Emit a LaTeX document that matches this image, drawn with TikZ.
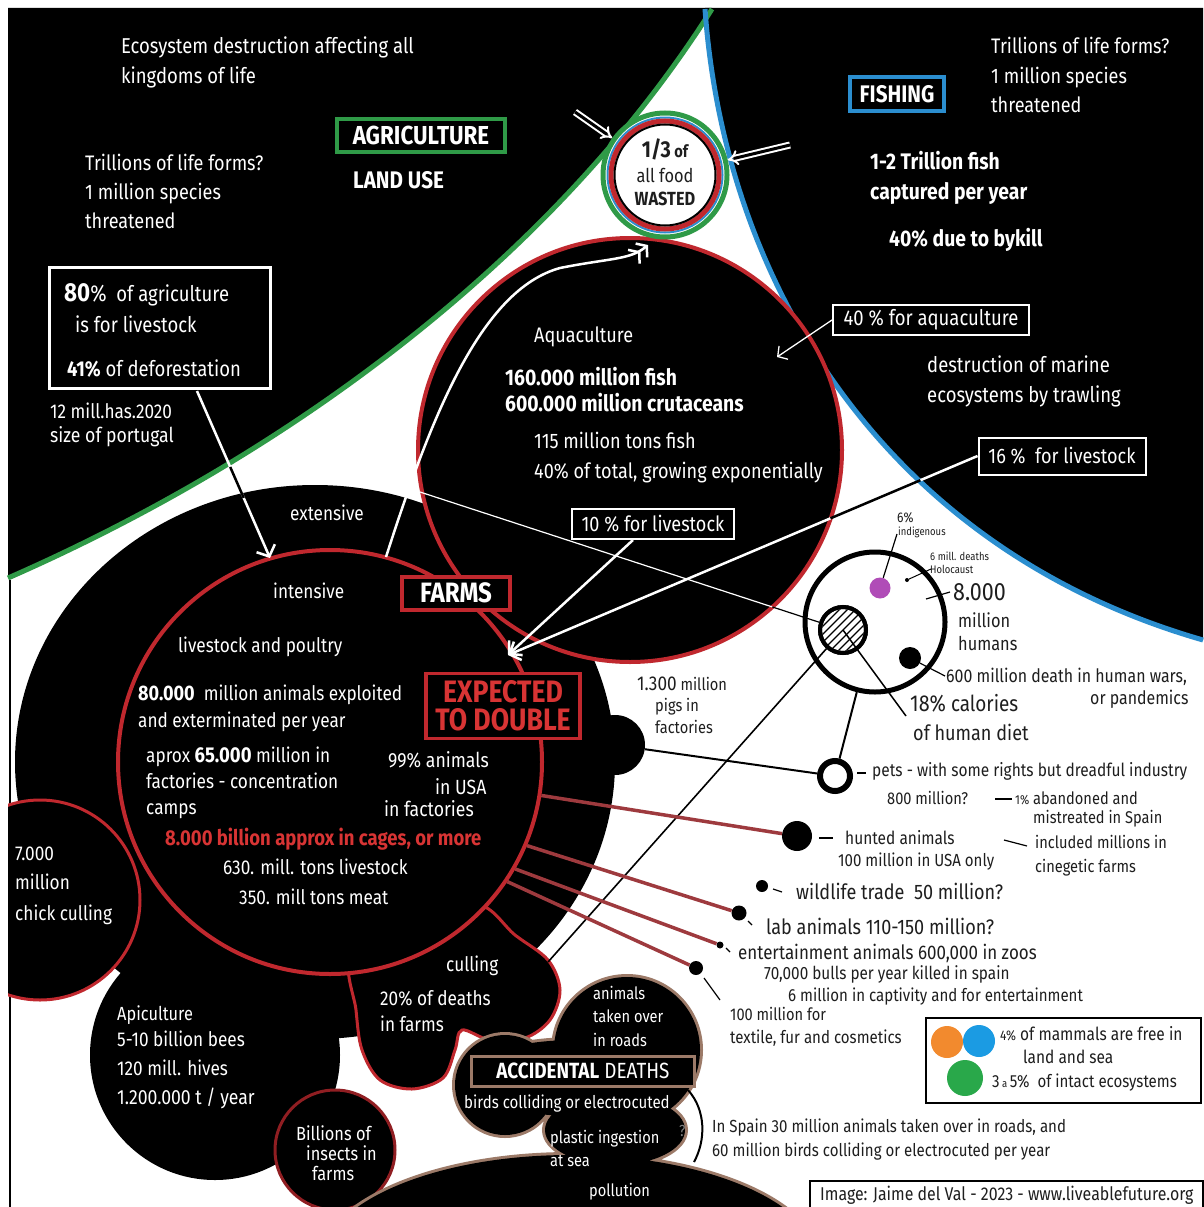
\documentclass[tikz,border=0pt]{standalone}
\usepackage{fontspec}
\setmainfont{Fira Sans}[FakeStretch=0.86]
\usetikzlibrary{arrows.meta,calc}
\newcommand{\fsz}[1]{\fontsize{#1}{#1}\selectfont}
\definecolor{agrgreen}{HTML}{2F9A47}
\definecolor{fishblue}{HTML}{2B8ECF}
\definecolor{farmred}{HTML}{C0282E}
\definecolor{linered}{HTML}{9E3A3E}
\definecolor{brightred}{HTML}{D83434}
\definecolor{accbrown}{HTML}{9C7A68}
\definecolor{humanpurple}{HTML}{B04CB7}
\definecolor{legorange}{HTML}{F28A2E}
\definecolor{legblue}{HTML}{1B9BE3}
\definecolor{leggreen}{HTML}{29A84A}
\definecolor{ink}{HTML}{1E1E1E}
\tikzset{
  lbl/.style={anchor=base west, inner sep=0pt, text=white},
  dlbl/.style={anchor=base west, inner sep=0pt, text=ink},
  wbox/.style={draw=white, line width=2pt, fill=black, text=white, inner sep=0pt},
  wline/.style={draw=white, line width=2.5pt},
  bline/.style={draw=black, line width=2pt},
  rline/.style={draw=linered, line width=3.5pt},
  barb/.style={-{Straight Barb[length=9pt,width=20pt]}},
  dot/.style={circle, fill=black, inner sep=0pt},
  dblarrow/.style={draw=white, double=black, double distance=3pt, line width=2pt, -{Implies[length=9pt]}},
}
\begin{document}
\begin{tikzpicture}[x=1pt,y=-1pt]
\useasboundingbox (0,0) rectangle (1203,1207);
\fill[white] (0,0) rectangle (1203,1207);

% land and sea regions
\fill[black] (8,8) -- (712,8) -- (712,9) .. controls (560,250) and (300,450) .. (8,578) -- cycle;
\fill[black] (705,8) -- (1203,8) -- (1203,640) .. controls (890,550) and (725,290) .. (705,9) -- cycle;
\draw[agrgreen, line width=5pt] (8,578) .. controls (300,450) and (560,250) .. (712,9);
\draw[fishblue, line width=5pt] (705,9) .. controls (725,290) and (890,550) .. (1203,640);
\draw[black, line width=2pt] (10,580) -- (10,1207);

% animal farming blobs
\fill[black] (315,762) ellipse [x radius=300, y radius=277];
\node[circle, fill=black, minimum size=60pt, inner sep=0pt] (pig) at (615,745) {};
\node[circle, fill=black, draw=farmred, line width=4pt, minimum size=424pt, inner sep=0pt] (aquac) at (630,450) {};
\fill[black] (215,1055) circle (125);
\begin{scope}
  \clip (8,0) rectangle (1203,1207);
  \draw[farmred, line width=3pt, fill=black] (40,900) circle (100);
\end{scope}
\draw[farmred, line width=3pt, fill=black] plot[smooth cycle, tension=0.55] coordinates {
  (352,955) (356,1010) (362,1050) (380,1080) (412,1089) (443,1078) (455,1050) (462,1030)
  (490,1040) (525,1038) (550,1020) (560,990) (548,960) (515,935) (478,905) (420,930)};
\node[circle, fill=black, draw=farmred, line width=4pt, minimum size=424pt, inner sep=0pt] (farmc) at (330,762) {};
\node[circle, fill=black, draw=farmred!75!black, line width=3pt, minimum size=120pt, inner sep=0pt] (insc) at (335,1150) {};

% accidental deaths blob
\path[draw=accbrown, line width=6pt, fill=black]
  (627,1050) circle (73) (505,1085) circle (50)
  (575,1078) ellipse [x radius=112, y radius=38]
  (615,1130) ellipse [x radius=70, y radius=35]
  (570,1265) ellipse [x radius=250, y radius=110];
\fill[black]
  (627,1050) circle (73) (505,1085) circle (50)
  (575,1078) ellipse [x radius=112, y radius=38]
  (615,1130) ellipse [x radius=70, y radius=35]
  (570,1265) ellipse [x radius=250, y radius=110];
\draw[black, line width=2pt] (688,1090) .. controls (706,1110) and (706,1140) .. (694,1162);

% food waste circle
\node[circle, fill=white, draw=agrgreen, line width=5pt, minimum size=124pt, inner sep=0pt] (food) at (665,175) {};
\draw[fishblue, line width=2pt] (food.center) circle (57.5);
\draw[farmred, line width=5pt] (food.center) circle (54);
\draw[black, line width=2pt] (food.center) circle (50.5);
\node[text=ink, font=\bfseries\fsz{23}, inner sep=0pt] (f13) at (665,149) {1/3{\fsz{17} of}};
\node[text=ink, font=\fsz{19}, inner sep=0pt] (fall) at (665,175) {all food};
\node[text=ink, font=\bfseries\fsz{19}, inner sep=0pt] (fwas) at (665,199) {WASTED};
\coordinate (ularr) at (575,112);
\coordinate (rarr) at (790,145);
\draw[dblarrow] (ularr) -- (food);
\draw[dblarrow] (rarr) -- (food);

% connectors on the dark areas
\node[draw=white, line width=3pt, fill=black, minimum width=221pt, minimum height=121pt, inner sep=0pt] (box80) at (160,328) {};
\coordinate (a80end) at (270,558);
\coordinate (a80start) at (197,391);
\draw[wline, barb] (a80start) -- (a80end);
\draw[black, line width=2.5pt] ($(a80start)!0.455!(a80end)$) -- ($(a80start)!0.64!(a80end)$);
\coordinate (cs) at (386,557);
\coordinate (ce) at (648,245);
\draw[wline, -{Straight Barb[length=7pt,width=18pt] Straight Barb[length=7pt,width=18pt]}]
  (cs) .. controls (430,420) and (480,290) .. (560,268) .. controls (610,258) and (630,260) .. (ce);

\node[circle, draw=black, line width=4pt, minimum size=46pt, inner sep=0pt] (hatch) at (843,630) {};
\coordinate (tl0) at (420,492);
\draw[white, line width=1.2pt] (tl0) -- ($(tl0)!0.833!(hatch)$);
\draw[black, line width=1.2pt] ($(tl0)!0.833!(hatch)$) -- (hatch);

\node[wbox, font=\fsz{21.5}, minimum width=196pt, minimum height=30pt] (b40) at (931,320) {40 \% for aquaculture};
\node[wbox, font=\fsz{21}, minimum width=167pt, minimum height=37pt] (b16) at (1062,456) {16 \%\ \ for livestock};
\node[wbox, font=\fsz{21}, minimum width=162pt, minimum height=30pt] (b10) at (653,524) {10 \% for livestock};
\coordinate (aqa) at (777,357);
\draw[white, line width=1.3pt, -{Straight Barb[length=7pt,width=16pt]}] (b40.west) -- (aqa);
\coordinate (fa) at (508,655);
\draw[wline, barb] ([xshift=-20pt]b10.south) -- (fa);
\draw[wline] (b16.west) -- ($(b16.west)!0.1217!(fa)$);
\draw[black, line width=2.5pt] ($(b16.west)!0.1217!(fa)$) -- ($(b16.west)!0.3135!(fa)$);
\draw[wline, barb] ($(b16.west)!0.3135!(fa)$) -- (fa);

% boxes and labels, top left
\node[lbl, font=\fsz{21.5}] (eco1) at (121,54) {Ecosystem destruction affecting all};
\node[lbl, font=\fsz{21.5}] (eco2) at (121,83) {kingdoms of life};
\node[lbl, font=\fsz{21}] (tr1) at (85,170) {Trillions of life forms?};
\node[lbl, font=\fsz{21}] (tr2) at (85,199) {1 million species};
\node[lbl, font=\fsz{21}] (tr3) at (85,228) {threatened};
\node[draw=agrgreen, line width=4pt, fill=black, text=white, font=\bfseries\fsz{26}, minimum width=168pt, minimum height=33pt, inner sep=0pt] (agri) at (421,135) {AGRICULTURE};
\node[lbl, font=\bfseries\fsz{24}] (land) at (353,188) {LAND USE};
\node[lbl, font=\fsz{21.5}] (p80) at (64,301) {{\bfseries\fsz{26}80}{\fsz{23}\%}\ \ of agriculture};
\node[lbl, font=\fsz{21.5}] (p80b) at (75,332) {is for livestock};
\node[lbl, font=\fsz{21.5}] (p41) at (67,376) {{\bfseries 41\%} of deforestation};
\node[lbl, font=\fsz{20}] (mill12) at (50,418) {12 mill.has.2020};
\node[lbl, font=\fsz{20.5}] (port) at (50,442) {size of portugal};

% top right
\node[lbl, font=\fsz{21}] (tr4) at (991,54) {Trillions of life forms?};
\node[lbl, font=\fsz{21}] (tr5) at (991,83) {1 million species};
\node[lbl, font=\fsz{21}] (tr6) at (991,112) {threatened};
\node[draw=fishblue, line width=4pt, fill=black, text=white, font=\bfseries\fsz{24}, minimum width=94pt, minimum height=34pt, inner sep=0pt] (fish) at (897,94) {FISHING};
\node[lbl, font=\bfseries\fsz{22.5}] (fsh1) at (870,169) {1-2 Trillion fish};
\node[lbl, font=\bfseries\fsz{22.5}] (fsh2) at (870,199) {captured per year};
\node[lbl, font=\bfseries\fsz{22.5}] (fsh3) at (889,246) {40\% due to bykill};
\node[lbl, font=\fsz{21.5}] (mar1) at (927,372) {destruction of marine};
\node[lbl, font=\fsz{21.5}] (mar2) at (927,402) {ecosystems by trawling};

% aquaculture
\node[lbl, font=\fsz{21}] (aq) at (534,342) {Aquaculture};
\node[lbl, font=\bfseries\fsz{22.5}] (aq1) at (505,385) {160.000 million fish};
\node[lbl, font=\bfseries\fsz{22.5}] (aq2) at (505,411) {600.000 million crutaceans};
\node[lbl, font=\fsz{21}] (aq3) at (534,448) {115 million tons fish};
\node[lbl, font=\fsz{21}] (aq4) at (534,478) {40\% of total, growing exponentially};

% farms
\node[draw=farmred, line width=4pt, fill=black, text=white, font=\bfseries\fsz{28}, minimum width=108pt, minimum height=33pt, inner sep=0pt] (farms) at (456,593) {FARMS};
\node[lbl, font=\fsz{20}] (ext) at (290,520) {extensive};
\node[lbl, font=\fsz{20}] (int) at (273,598) {intensive};
\node[lbl, font=\fsz{20}] (lp) at (178,652) {livestock and poultry};
\node[lbl, font=\fsz{20}] (e80) at (138,700) {{\bfseries\fsz{21}80.000}\ \ million\ animals exploited};
\node[lbl, font=\fsz{20}] (e80b) at (138,727) {and exterminated per year};
\node[draw=farmred, line width=3.5pt, fill=black, text=brightred, font=\bfseries\fsz{31}, align=center, minimum width=154pt, minimum height=65pt, inner sep=0pt] (dbl) at (503,706) {EXPECTED\\[-3pt]TO DOUBLE};
\node[lbl, font=\fsz{20}] (c65) at (146,762) {aprox {\bfseries\fsz{21.5}65.000} million in};
\node[lbl, font=\fsz{20}] (c65b) at (146,788) {factories - concentration};
\node[lbl, font=\fsz{20}] (c65c) at (146,814) {camps};
\node[lbl, font=\fsz{20.5}] (usa1) at (388,767) {99\% animals};
\node[lbl, font=\fsz{20.5}] (usa2) at (435,794) {in USA};
\node[lbl, font=\fsz{20.5}] (usa3) at (384,816) {in factories};
\node[lbl, text=brightred, font=\bfseries\fsz{21.5}] (cage) at (165,845) {8.000 billion approx in cages, or more};
\node[lbl, font=\fsz{20}] (t630) at (223,874) {630. mill. tons livestock};
\node[lbl, font=\fsz{20}] (t350) at (239,904) {350. mill tons meat};
\node[lbl, font=\fsz{20}] (ch1) at (15,860) {7.000};
\node[lbl, font=\fsz{20}] (ch2) at (15,889) {million};
\node[lbl, font=\fsz{20}] (ch3) at (15,920) {chick culling};
\node[lbl, font=\fsz{20}] (cul) at (446,971) {culling};
\node[lbl, font=\fsz{20}] (cul2) at (380,1005) {20\% of deaths};
\node[lbl, font=\fsz{20}] (cul3) at (380,1031) {in farms};
\node[lbl, font=\fsz{19}] (api1) at (117,1020) {Apiculture};
\node[lbl, font=\fsz{20}] (api2) at (117,1046) {5-10 billion bees};
\node[lbl, font=\fsz{20}] (api3) at (117,1075) {120 mill. hives};
\node[lbl, font=\fsz{20.5}] (api4) at (117,1104) {1.200.000 t / year};
\node[lbl, font=\fsz{19}] (ins1) at (296,1140) {Billions of};
\node[lbl, font=\fsz{19}] (ins2) at (306,1160) {insects in};
\node[lbl, font=\fsz{19}] (ins3) at (312,1180) {farms};

% accidental deaths
\node[lbl, font=\fsz{17}] (acc1) at (593,999) {animals};
\node[lbl, font=\fsz{17}] (acc2) at (593,1022) {taken over};
\node[lbl, font=\fsz{17}] (acc3) at (593,1046) {in roads};
\node[draw=accbrown, line width=3pt, fill=black, text=white, font=\fsz{22}, minimum width=223pt, minimum height=30pt, inner sep=0pt] (accd) at (583,1071) {{\bfseries ACCIDENTAL} DEATHS};
\node[lbl, font=\fsz{17.5}] (acc4) at (464,1108) {birds colliding or electrocuted};
\node[lbl, font=\fsz{17}] (acc5) at (550,1143) {plastic ingestion};
\node[lbl, font=\fsz{17}] (acc6) at (550,1166) {at sea};
\node[lbl, font=\fsz{17}] (acc7) at (589,1196) {pollution};
\node[dlbl, text=gray, font=\fsz{16}] (qm) at (679,1136) {?};

% humans
\node[circle, draw=black, line width=5pt, minimum size=140pt, inner sep=0pt] (humans) at (875,622) {};
\begin{scope}
  \clip (hatch.center) circle (21);
  \foreach \d in {-56,-48,...,56} \draw[black, line width=1.2pt] (843+\d-30,660) -- (843+\d+30,600);
\end{scope}
\node[circle, draw=black, line width=4pt, minimum size=46pt, inner sep=0pt] (hatchring) at (hatch.center) {};
\node[dot, fill=humanpurple, minimum size=21pt] (purp) at (880,588) {};
\node[dot, minimum size=22pt] (bdot) at (910,658) {};
\node[dot, minimum size=4pt] (hdot) at (907,580) {};
\node[dlbl, font=\fsz{14}] (ind1) at (897,522) {6\%};
\node[dlbl, font=\fsz{11}] (ind2) at (898,535) {indigenous};
\node[dlbl, font=\fsz{11}] (hol1) at (930,560) {6 mill. deaths};
\node[dlbl, font=\fsz{11}] (hol2) at (930,573) {Holocaust};
\node[dlbl, font=\fsz{25}] (hum1) at (953,600) {8.000};
\node[dlbl, font=\fsz{19}] (hum2) at (958,627) {million};
\node[dlbl, font=\fsz{19}] (hum3) at (958,650) {humans};
\node[dlbl, font=\fsz{18.5}] (war1) at (946,682) {600 million death in human wars,};
\node[dlbl, font=\fsz{18.5}] (war2) at (1090,704) {or pandemics};
\node[dlbl, font=\fsz{22}] (cal1) at (910,711) {{\fsz{23}18\%} calories};
\node[dlbl, font=\fsz{21}] (cal2) at (913,740) {of human diet};
\coordinate (indp) at (897,534);
\draw[black, line width=1.2pt] (indp) -- (purp);
\coordinate (holp) at (931,569);
\draw[black, line width=1pt] (holp) -- (hdot);
\coordinate (humd1) at (926,599);
\coordinate (humd2) at (950,592);
\draw[black, line width=1.2pt] (humd1) -- (humd2);
\coordinate (warp) at (945,676);
\draw[black, line width=1.2pt] (bdot) -- (warp);
\coordinate (calp) at (906,716);
\draw[black, line width=1.5pt] (hatch.center) -- (calp);

% other animals
\node[circle, draw=black, line width=6pt, fill=white, minimum size=30pt, inner sep=0pt] (pets) at (835,776) {};
\draw[bline] (humans) -- (pets);
\draw[bline] (pig) -- (pets);
\coordinate (cullend) at (548,962);
\draw[black, line width=1.6pt] (cullend) -- (hatch);
\node[dlbl, font=\fsz{17}] (pig1) at (637,690) {{\fsz{20}1.300} million};
\node[dlbl, font=\fsz{17}] (pig2) at (655,711) {pigs in};
\node[dlbl, font=\fsz{17}] (pig3) at (655,733) {factories};
\draw[black, line width=1.2pt] (857,773) -- (866,773);
\node[dlbl, font=\fsz{18}] (pet1) at (872,776) {pets - with some rights but dreadful industry};
\node[dlbl, font=\fsz{17}] (pet2) at (887,804) {800 million?};
\draw[black, line width=1.2pt] (995,799) -- (1012,799);
\node[dlbl, font=\fsz{17}] (ab1) at (1015,804) {{\fsz{13}1\%} abandoned and};
\node[dlbl, font=\fsz{17}] (ab2) at (1033,823) {mistreated in Spain};
\draw[black, line width=1.2pt] (1004,840) -- (1027,846);
\node[dlbl, font=\fsz{17}] (ab3) at (1035,848) {included millions in};
\node[dlbl, font=\fsz{17}] (ab4) at (1035,872) {cinegetic farms};

\node[dot, minimum size=30pt] (hunt) at (797,836) {};
\node[dot, minimum size=12pt] (wildd) at (762,886) {};
\node[dot, minimum size=15pt] (labd) at (739,913) {};
\node[dot, minimum size=7pt] (entd) at (720,945) {};
\node[dot, minimum size=14pt] (texd) at (696,968) {};
\draw[rline] (farmc.-9.5) -- (hunt);
\draw[rline] (farmc.-23) -- (labd);
\draw[rline] (farmc.-30) -- (entd);
\draw[rline] (farmc.-34) -- (texd);
\draw[black, line width=1.2pt] (819,838) -- (833,838);
\draw[black, line width=1.2pt] (773,889) -- (782,892);
\draw[black, line width=1.2pt] (748,921) -- (752,925);
\draw[black, line width=1.2pt] (726,948) -- (730,952);
\draw[black, line width=1.2pt] (704,978) -- (720,1000);
\node[dlbl, font=\fsz{18}] (hun1) at (845,844) {hunted animals};
\node[dlbl, font=\fsz{17.5}] (hun2) at (838,866) {100 million in USA only};
\node[dlbl, font=\fsz{21}] (wild) at (796,899) {wildlife trade\ \ 50 million?};
\node[dlbl, font=\fsz{21}] (labt) at (766,934) {lab animals 110-150 million?};
\node[dlbl, font=\fsz{19.7}] (ent1) at (738,959) {entertainment animals 600,000 in zoos};
\node[dlbl, font=\fsz{17.8}] (ent2) at (764,979) {70,000 bulls per year killed in spain};
\node[dlbl, font=\fsz{17.5}] (ent3) at (788,1001) {6 million in captivity and for entertainment};
\node[dlbl, font=\fsz{17}] (tex1) at (730,1020) {100 million for};
\node[dlbl, font=\fsz{17.5}] (tex2) at (730,1043) {textile, fur and cosmetics};
\node[dlbl, font=\fsz{17.5}] (sp1) at (712,1132) {In Spain 30 million animals taken over in roads, and};
\node[dlbl, font=\fsz{17.5}] (sp2) at (712,1156) {60 million birds colliding or electrocuted per year};

% legend and credit
\node[draw=black, line width=2pt, fill=white, minimum width=275pt, minimum height=85pt, inner sep=0pt] (legend) at (1063,1060) {};
\node[circle, fill=legorange, minimum size=32pt, inner sep=0pt] (lo) at (947,1042) {};
\node[circle, fill=legblue, minimum size=32pt, inner sep=0pt] (lb) at (979,1041) {};
\node[circle, fill=leggreen, minimum size=36pt, inner sep=0pt] (lgc) at (965,1078) {};
\node[dlbl, font=\fsz{18}] (lg1) at (1000,1040) {{\fsz{14}4\%} of mammals are free in};
\node[dlbl, font=\fsz{18}] (lg2) at (1023,1063) {land and sea};
\node[dlbl, font=\fsz{17.5}] (lg3) at (992,1087) {3{\fsz{11} a }5\%\ \ of intact ecosystems};
\node[draw=black, line width=2pt, fill=white, minimum width=393pt, minimum height=36pt, anchor=north west, inner sep=0pt] (credit) at (809,1180) {};
\node[dlbl, font=\fsz{18.5}] (cred) at (820,1200) {Image: Jaime del Val - 2023 - www.liveablefuture.org};
\end{tikzpicture}
\end{document}
